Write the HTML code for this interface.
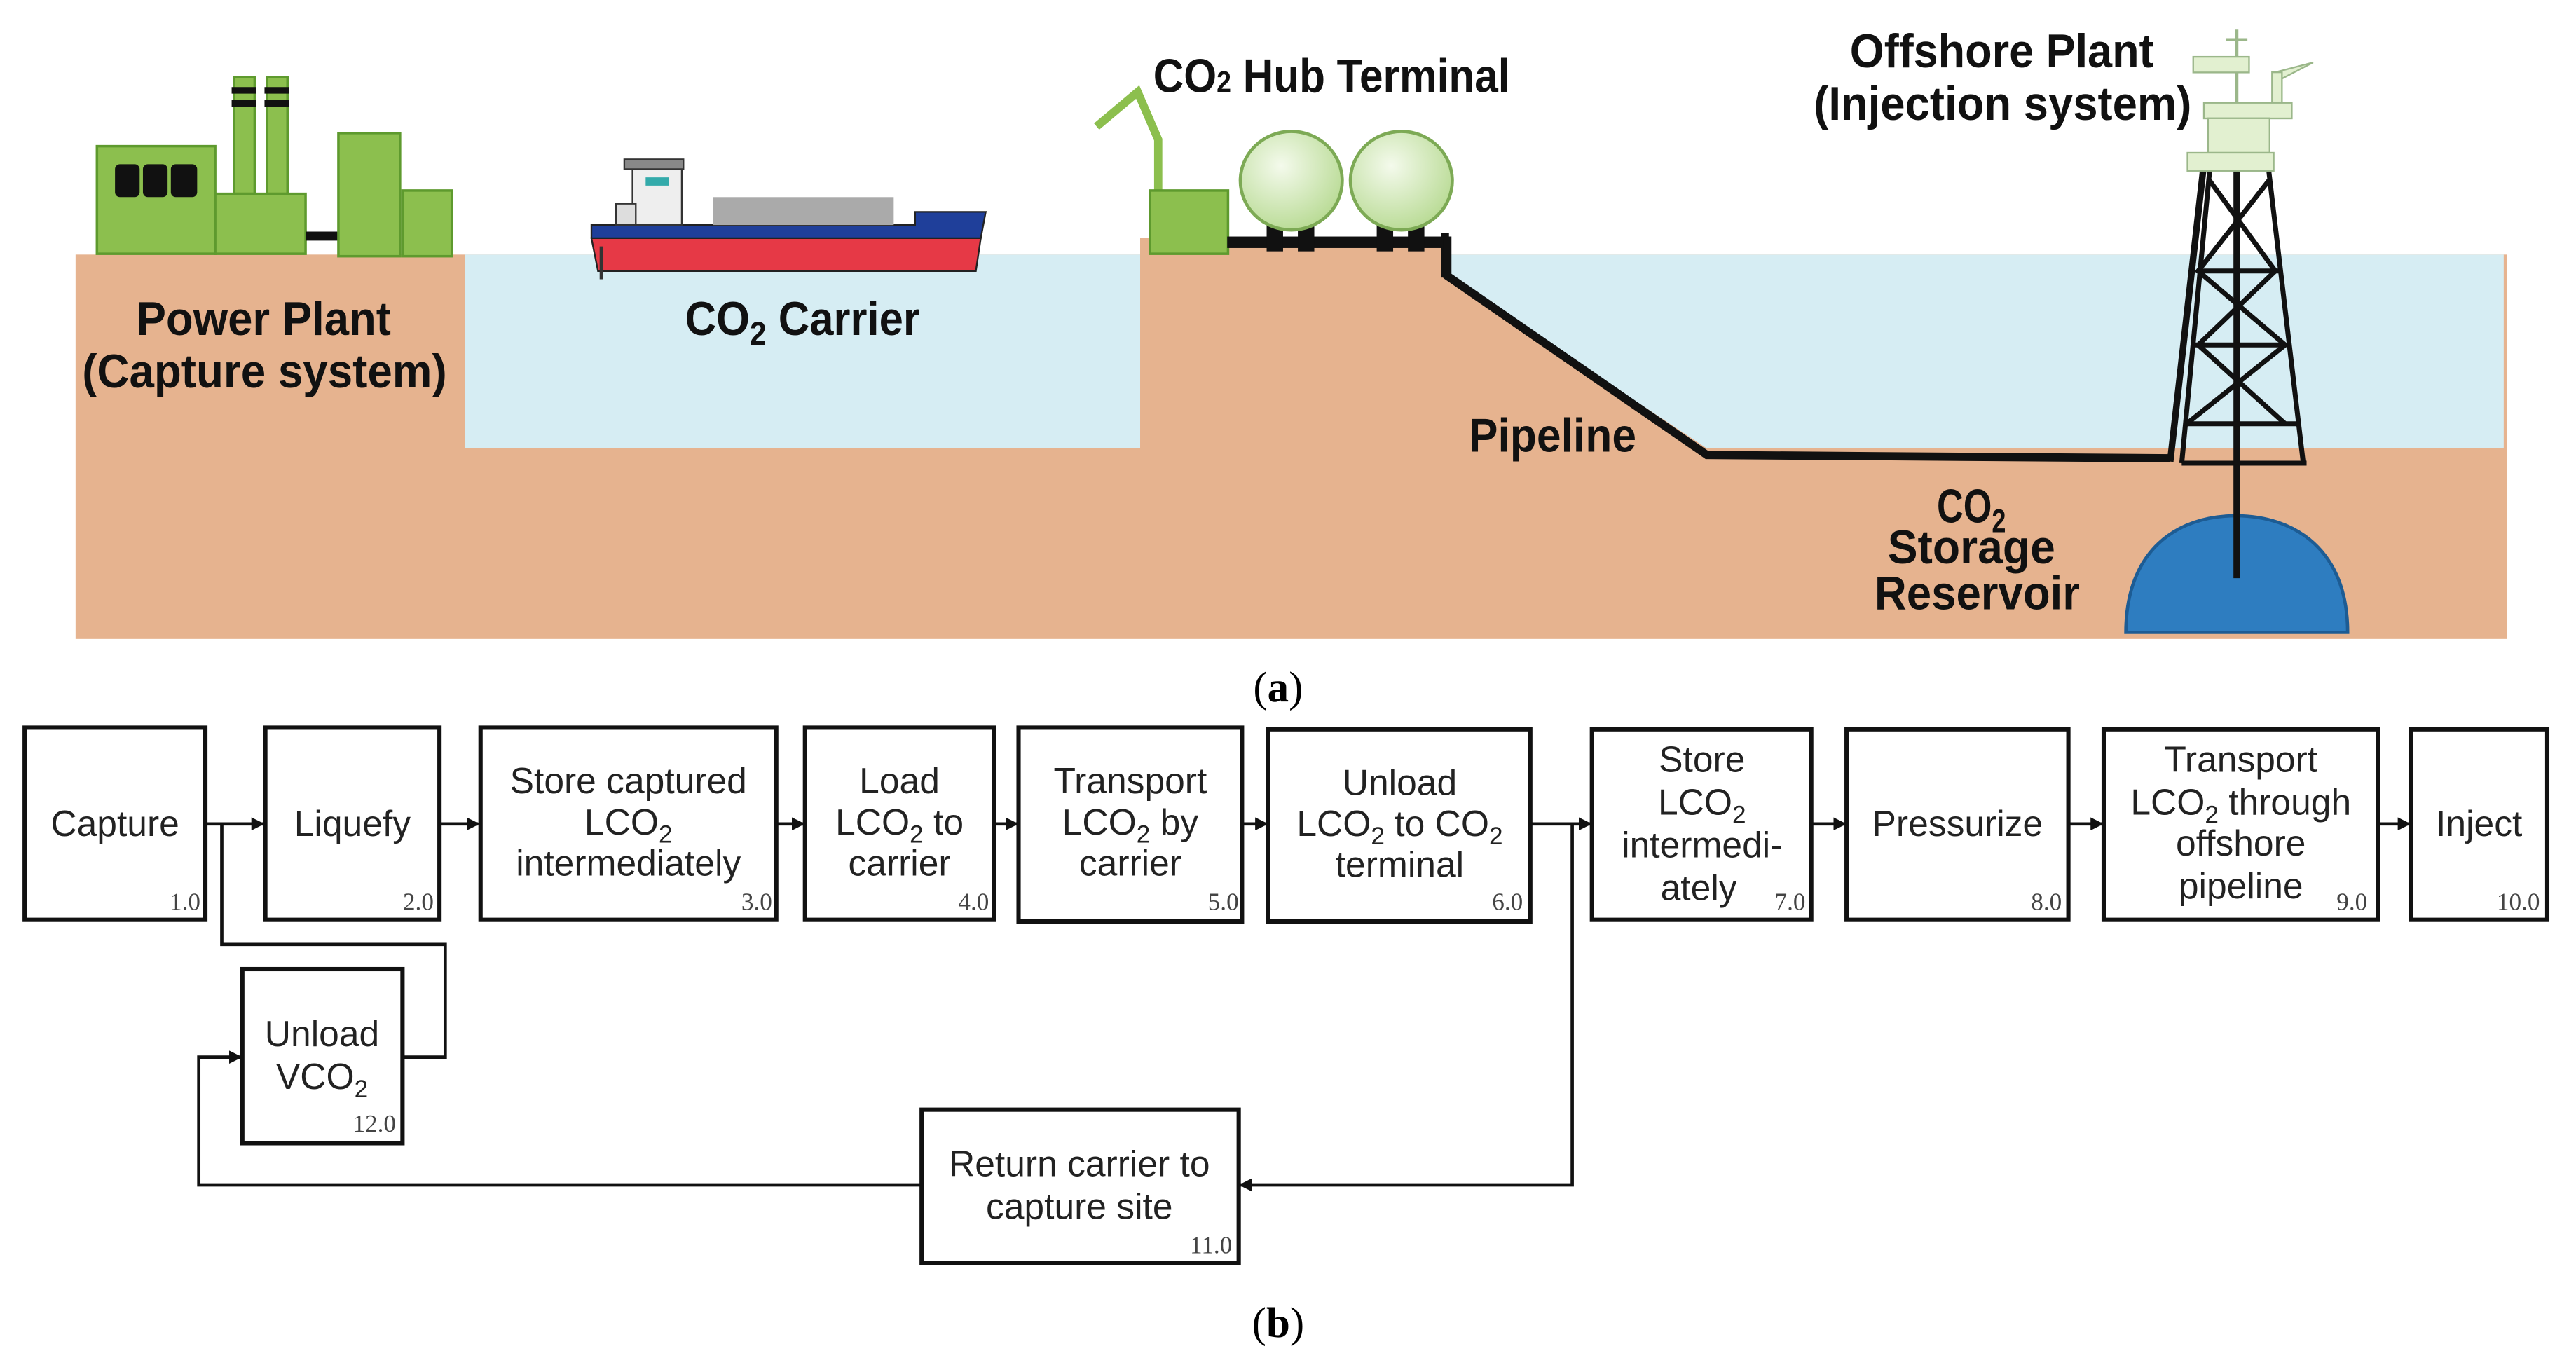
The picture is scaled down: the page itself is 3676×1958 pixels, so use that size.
<!DOCTYPE html>
<html><head><meta charset="utf-8"><style>
html,body{margin:0;padding:0;background:#fff;}
svg{display:block;}
.h{font-family:"Liberation Sans Narrow","Liberation Sans",sans-serif;font-weight:bold;fill:#111;}
.t{font-family:"Liberation Sans",sans-serif;font-size:22px;fill:#222;text-anchor:middle;}
.n{font-family:"Liberation Serif",serif;font-size:15px;fill:#444;text-anchor:end;}
.c{font-family:"Liberation Serif",serif;font-size:26px;fill:#000;text-anchor:middle;}
.b{fill:#fff;stroke:#111;stroke-width:2.6;}
.l{fill:none;stroke:#111;stroke-width:2;}
.g{fill:#8CBF4E;stroke:#5E9A2E;stroke-width:1.5;}
.p{fill:#E2F0D0;stroke:#9BB78A;stroke-width:1;}
</style></head><body>
<svg width="3676" height="1958" viewBox="0 0 1568 835.3" preserveAspectRatio="none" xmlns="http://www.w3.org/2000/svg">
<defs>
<marker id="a" markerWidth="8" markerHeight="8" refX="7" refY="4" orient="auto" markerUnits="userSpaceOnUse"><path d="M0,0 L8,4 L0,8 Z" fill="#111"/></marker>
<radialGradient id="sg" cx="0.4" cy="0.35" r="0.7"><stop offset="0" stop-color="#F4FAEC"/><stop offset="1" stop-color="#B7DA92"/></radialGradient>
</defs>
<!-- ground & water -->
<rect x="46" y="155" width="1480" height="234" fill="#E6B38F"/>
<rect x="694" y="145" width="187" height="15" fill="#E6B38F"/>
<rect x="283" y="155" width="411" height="118" fill="#D6EDF3"/>
<polygon points="881,155 1524,155 1524,273 1039,273 881,168" fill="#D6EDF3"/>
<!-- power plant -->
<rect class="g" x="142.5" y="47" width="12.5" height="71"/>
<rect class="g" x="162.5" y="47" width="12.5" height="71"/>
<rect x="141" y="53" width="15" height="4" fill="#111"/><rect x="161" y="53" width="15" height="4" fill="#111"/>
<rect x="141" y="61" width="15" height="4" fill="#111"/><rect x="161" y="61" width="15" height="4" fill="#111"/>
<rect class="g" x="59" y="89" width="72" height="65.5"/>
<rect x="70" y="100" width="15" height="20" rx="3" fill="#111"/><rect x="87" y="100" width="15" height="20" rx="3" fill="#111"/><rect x="104" y="100" width="16" height="20" rx="3" fill="#111"/>
<rect class="g" x="131" y="118" width="55" height="36.5"/>
<rect x="186" y="141" width="20" height="5.5" fill="#111"/>
<rect class="g" x="206" y="81" width="37.5" height="75"/>
<rect class="g" x="245" y="116" width="30" height="40"/>
<!-- ship -->
<path d="M360,145 L597,145 L594,165 L364,165 Z" fill="#E63946" stroke="#222" stroke-width="1"/>
<path d="M360,137 L557,137 L557,129 L600,129 L597,145 L360,145 Z" fill="#1F3F9A" stroke="#222" stroke-width="1"/>
<rect x="434" y="120" width="110" height="17" fill="#AAAAAA"/>
<rect x="385" y="102" width="30" height="35" fill="#EEE" stroke="#333" stroke-width="1"/>
<rect x="380" y="97" width="36" height="6" fill="#888" stroke="#333" stroke-width="1"/>
<rect x="393" y="108" width="14" height="5" fill="#3AA"/>
<rect x="375" y="124" width="12" height="13" fill="#ddd" stroke="#333" stroke-width="1"/>
<line x1="366" y1="150" x2="366" y2="170" stroke="#333" stroke-width="2"/>
<!-- hub -->
<polyline points="667.5,77 692.5,56 705,85 705,117" fill="none" stroke="#8CBF4E" stroke-width="5"/>
<rect class="g" x="700" y="116" width="47.5" height="38.5"/>
<rect x="747" y="144" width="134" height="7" fill="#111"/>
<rect x="877" y="142" width="5" height="27" fill="#111"/>
<rect x="771" y="136" width="10" height="17" fill="#111"/><rect x="790" y="136" width="10" height="17" fill="#111"/>
<rect x="838" y="136" width="10" height="17" fill="#111"/><rect x="857" y="136" width="10" height="17" fill="#111"/>
<ellipse cx="786" cy="110" rx="31" ry="30" fill="url(#sg)" stroke="#7DAA55" stroke-width="2"/>
<ellipse cx="853" cy="110" rx="31" ry="30" fill="url(#sg)" stroke="#7DAA55" stroke-width="2"/>
<!-- pipeline -->
<polyline points="881,144 881,168 1039,277 1321,279" fill="none" stroke="#111" stroke-width="5"/>
<!-- reservoir -->
<path d="M1294,385 C1294,335 1325,314 1361,314 C1397,314 1429,335 1429,385 Z" fill="#2E7DC0" stroke="#1D5C94" stroke-width="2"/>
<!-- tower -->
<g stroke="#111" stroke-width="3" fill="none">
<line x1="1321" y1="281" x2="1341" y2="104" stroke-width="4"/>
<line x1="1328" y1="282" x2="1345" y2="104"/>
<line x1="1402" y1="282" x2="1381" y2="104"/>
<line x1="1328" y1="282" x2="1404" y2="282"/>
<line x1="1361.5" y1="104" x2="1361.5" y2="352" stroke-width="4"/>
<line x1="1338" y1="165" x2="1387" y2="165"/><line x1="1335" y1="210" x2="1391" y2="210"/><line x1="1331" y1="258" x2="1398" y2="258"/>
<polyline points="1345,110 1385,165 1338,210 1391,258"/>
<polyline points="1381,110 1338,165 1391,210 1331,258"/>
</g>
<!-- platform -->
<line x1="1361.5" y1="18" x2="1361.5" y2="62" stroke="#9BB78A" stroke-width="2"/>
<line x1="1355" y1="24" x2="1368" y2="24" stroke="#9BB78A" stroke-width="1.5"/>
<rect class="p" x="1335" y="34.6" width="34" height="9.5"/>
<path class="p" d="M1385,44 L1408,38 L1385,50 Z"/>
<rect class="p" x="1383" y="44" width="6" height="20"/>
<rect class="p" x="1341.5" y="62.6" width="53.5" height="9.5"/>
<rect class="p" x="1344" y="72" width="37.5" height="21"/>
<rect class="p" x="1331.5" y="93" width="52.5" height="11"/>
<!-- (a) labels -->
<text class="h" x="83" y="204" font-size="29" textLength="155" lengthAdjust="spacingAndGlyphs">Power Plant</text>
<text class="h" x="50" y="236" font-size="29" textLength="222" lengthAdjust="spacingAndGlyphs">(Capture system)</text>
<text class="h" x="417" y="204" font-size="29" textLength="143" lengthAdjust="spacingAndGlyphs">CO<tspan font-size="20" dy="6">2</tspan><tspan dy="-6"> Carrier</tspan></text>
<text class="h" x="702" y="56" font-size="29" textLength="217" lengthAdjust="spacingAndGlyphs">CO<tspan font-size="18">2</tspan> Hub Terminal</text>
<text class="h" x="1126" y="41" font-size="29" textLength="185" lengthAdjust="spacingAndGlyphs">Offshore Plant</text>
<text class="h" x="1104" y="73" font-size="29" textLength="230" lengthAdjust="spacingAndGlyphs">(Injection system)</text>
<text class="h" x="894" y="275" font-size="29" textLength="102" lengthAdjust="spacingAndGlyphs">Pipeline</text>
<text class="h" x="1179" y="318" font-size="29" textLength="42" lengthAdjust="spacingAndGlyphs">CO<tspan font-size="20" dy="6">2</tspan></text>
<text class="h" x="1149" y="343" font-size="29" textLength="102" lengthAdjust="spacingAndGlyphs">Storage</text>
<text class="h" x="1141" y="371" font-size="29" textLength="125" lengthAdjust="spacingAndGlyphs">Reservoir</text>
<text class="c" x="778" y="427">(<tspan font-weight="bold">a</tspan>)</text>
<text class="c" x="778" y="814">(<tspan font-weight="bold">b</tspan>)</text>
<!-- (b) connectors -->
<g class="l">
<line x1="125" y1="501.6" x2="160" y2="501.6" marker-end="url(#a)"/>
<line x1="267.5" y1="501.6" x2="291" y2="501.6" marker-end="url(#a)"/>
<line x1="472.5" y1="501.6" x2="489" y2="501.6" marker-end="url(#a)"/>
<line x1="605" y1="501.6" x2="619" y2="501.6" marker-end="url(#a)"/>
<line x1="756" y1="501.6" x2="771" y2="501.6" marker-end="url(#a)"/>
<line x1="931.5" y1="501.6" x2="968" y2="501.6" marker-end="url(#a)"/>
<line x1="1102.5" y1="501.6" x2="1123" y2="501.6" marker-end="url(#a)"/>
<line x1="1259" y1="501.6" x2="1279.5" y2="501.6" marker-end="url(#a)"/>
<line x1="1447.5" y1="501.6" x2="1466.5" y2="501.6" marker-end="url(#a)"/>
<polyline points="135,501.6 135,575 271,575 271,643.6 245,643.6"/>
<polyline points="957,501.6 957,721.4 755,721.4" marker-end="url(#a)"/>
<polyline points="561,721.4 121,721.4 121,643.6 146.5,643.6" marker-end="url(#a)"/>
</g>
<!-- boxes -->
<rect class="b" x="15" y="443" width="110" height="117"/>
<rect class="b" x="161.5" y="443" width="106" height="117"/>
<rect class="b" x="292.5" y="443" width="180" height="117"/>
<rect class="b" x="490" y="443" width="115" height="117"/>
<rect class="b" x="620" y="443" width="136" height="118"/>
<rect class="b" x="772" y="444" width="159.5" height="117"/>
<rect class="b" x="969" y="444" width="133.5" height="116"/>
<rect class="b" x="1124" y="444" width="135" height="116"/>
<rect class="b" x="1280.5" y="444" width="167" height="116"/>
<rect class="b" x="1467.5" y="444" width="83" height="116"/>
<rect class="b" x="147.5" y="590" width="97.5" height="106"/>
<rect class="b" x="561" y="675.6" width="193" height="93.4"/>
<!-- box text -->
<text class="t" x="70" y="509">Capture</text>
<text class="t" x="214.5" y="509">Liquefy</text>
<text class="t" x="382.5" y="483">Store captured</text>
<text class="t" x="382.5" y="508">LCO<tspan font-size="15" dy="5">2</tspan></text>
<text class="t" x="382.5" y="533">intermediately</text>
<text class="t" x="547.5" y="483">Load</text>
<text class="t" x="547.5" y="508">LCO<tspan font-size="15" dy="5">2</tspan><tspan dy="-5"> to</tspan></text>
<text class="t" x="547.5" y="533">carrier</text>
<text class="t" x="688" y="483">Transport</text>
<text class="t" x="688" y="508">LCO<tspan font-size="15" dy="5">2</tspan><tspan dy="-5"> by</tspan></text>
<text class="t" x="688" y="533">carrier</text>
<text class="t" x="852" y="484">Unload</text>
<text class="t" x="852" y="509">LCO<tspan font-size="15" dy="5">2</tspan><tspan dy="-5"> to CO</tspan><tspan font-size="15" dy="5">2</tspan></text>
<text class="t" x="852" y="534">terminal</text>
<text class="t" x="1036" y="470">Store</text>
<text class="t" x="1036" y="496">LCO<tspan font-size="15" dy="5">2</tspan></text>
<text class="t" x="1036" y="522">intermedi-</text>
<text class="t" x="1034" y="548">ately</text>
<text class="t" x="1191.5" y="509">Pressurize</text>
<text class="t" x="1364" y="470">Transport</text>
<text class="t" x="1364" y="496">LCO<tspan font-size="15" dy="5">2</tspan><tspan dy="-5"> through</tspan></text>
<text class="t" x="1364" y="521">offshore</text>
<text class="t" x="1364" y="547">pipeline</text>
<text class="t" x="1509" y="509">Inject</text>
<text class="t" x="196" y="637">Unload</text>
<text class="t" x="196" y="663">VCO<tspan font-size="15" dy="5">2</tspan></text>
<text class="t" x="657" y="716">Return carrier to</text>
<text class="t" x="657" y="742">capture site</text>
<!-- numbers -->
<text class="n" x="122" y="554">1.0</text>
<text class="n" x="264" y="554">2.0</text>
<text class="n" x="470" y="554">3.0</text>
<text class="n" x="602" y="554">4.0</text>
<text class="n" x="754" y="554">5.0</text>
<text class="n" x="927" y="554">6.0</text>
<text class="n" x="1099" y="554">7.0</text>
<text class="n" x="1255" y="554">8.0</text>
<text class="n" x="1441" y="554">9.0</text>
<text class="n" x="1546" y="554">10.0</text>
<text class="n" x="241" y="689">12.0</text>
<text class="n" x="750" y="763">11.0</text>
</svg>
</body></html>
